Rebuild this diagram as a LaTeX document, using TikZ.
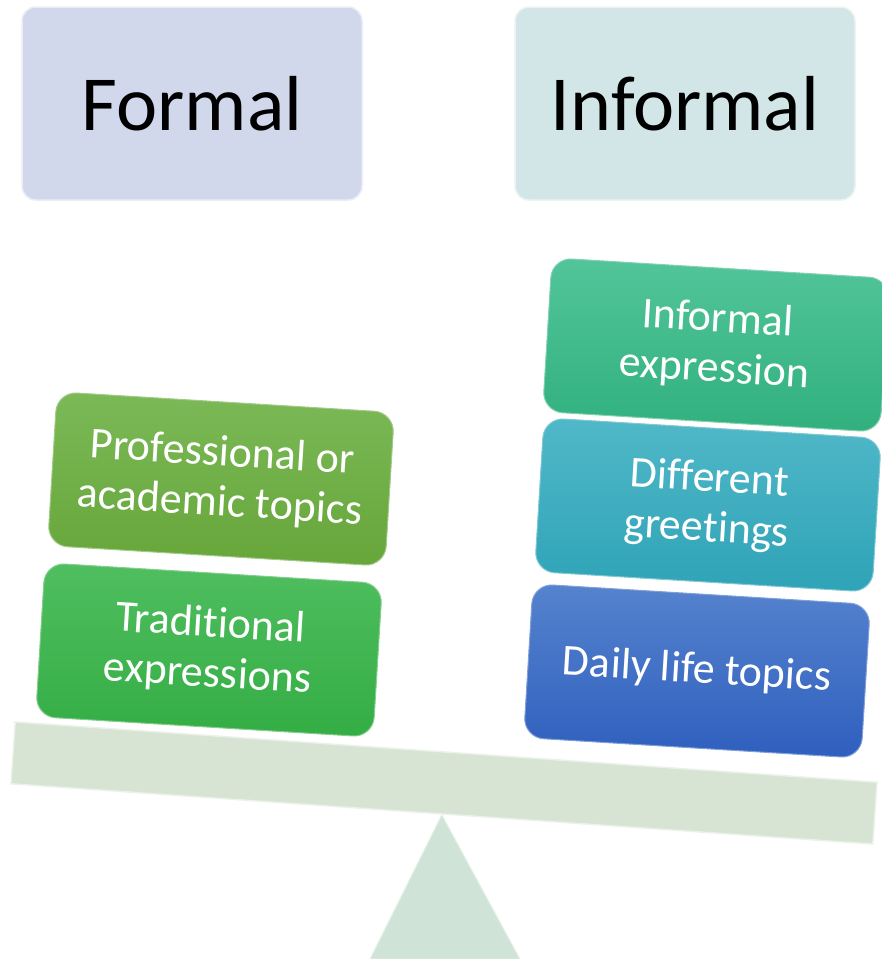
\documentclass[tikz,border=0pt]{standalone}
\usepackage{fontspec}
\setmainfont{Carlito}[Ligatures=NoCommon]
\definecolor{formalbg}{HTML}{D1D8EB}
\definecolor{informalbg}{HTML}{D2E6E8}
\definecolor{proftop}{HTML}{7BB957}
\definecolor{profbot}{HTML}{67A63A}
\definecolor{tradtop}{HTML}{4FBE5F}
\definecolor{tradbot}{HTML}{34AD44}
\definecolor{inftop}{HTML}{52C59A}
\definecolor{infbot}{HTML}{31B07E}
\definecolor{greettop}{HTML}{50B8C8}
\definecolor{greetbot}{HTML}{2FA3B7}
\definecolor{dailytop}{HTML}{5583CE}
\definecolor{dailybot}{HTML}{2F5FBE}
\definecolor{beamfill}{HTML}{D8E4D3}
\definecolor{pivotfill}{HTML}{CFE4D7}

\begin{document}
\begin{tikzpicture}
\tikzset{headbox/.style={draw=white!55!#1,line width=1.5pt,fill=#1,rounded corners=14pt,minimum width=340pt,minimum height=193pt,anchor=center,text=black,font=\fontsize{78}{94}\selectfont}}
\tikzset{topicbox/.style={draw=white!40!#1bot,line width=1pt,top color=#1top,bottom color=#1bot,rounded corners=20pt,minimum width=338pt,minimum height=154pt,anchor=center,rotate=-3.5,align=center,text=white,font=\fontsize{44}{50}\selectfont}}
\tikzset{beam/.style={fill=beamfill,draw=white!50!beamfill,line width=1.5pt,minimum width=864pt,minimum height=62pt,inner sep=0pt,anchor=center,rotate=-4}}
\tikzset{pivot/.style={fill=pivotfill,draw=white!50!pivotfill,line width=1pt}}

\begin{scope}[x={(1pt,0pt)},y={(0pt,-1pt)}]
\useasboundingbox (0,0) rectangle (882,959);

\node[headbox=formalbg] (formal) at (192,103.5) {Formal};
\node[headbox=informalbg] (informal) at (685,103.5) {Informal};

\node[beam] (beam) at (444,783) {};
\coordinate (baseleft) at (370,959);
\coordinate (baseright) at (520,959);
\path[pivot] (beam.south) -- (baseleft) -- (baseright) -- cycle;

\node[topicbox=prof] (prof) at (221,479) {Professional or\\academic topics};
\node[topicbox=trad] (trad) at (209,650) {Traditional\\expressions};

\node[topicbox=inf] (infexp) at (716,345) {Informal\\expression};
\node[topicbox=greet] (greet) at (708,505) {Different\\greetings};
\node[topicbox=daily] (daily) at (697,671) {Daily life topics};

\end{scope}
\end{tikzpicture}
\end{document}
